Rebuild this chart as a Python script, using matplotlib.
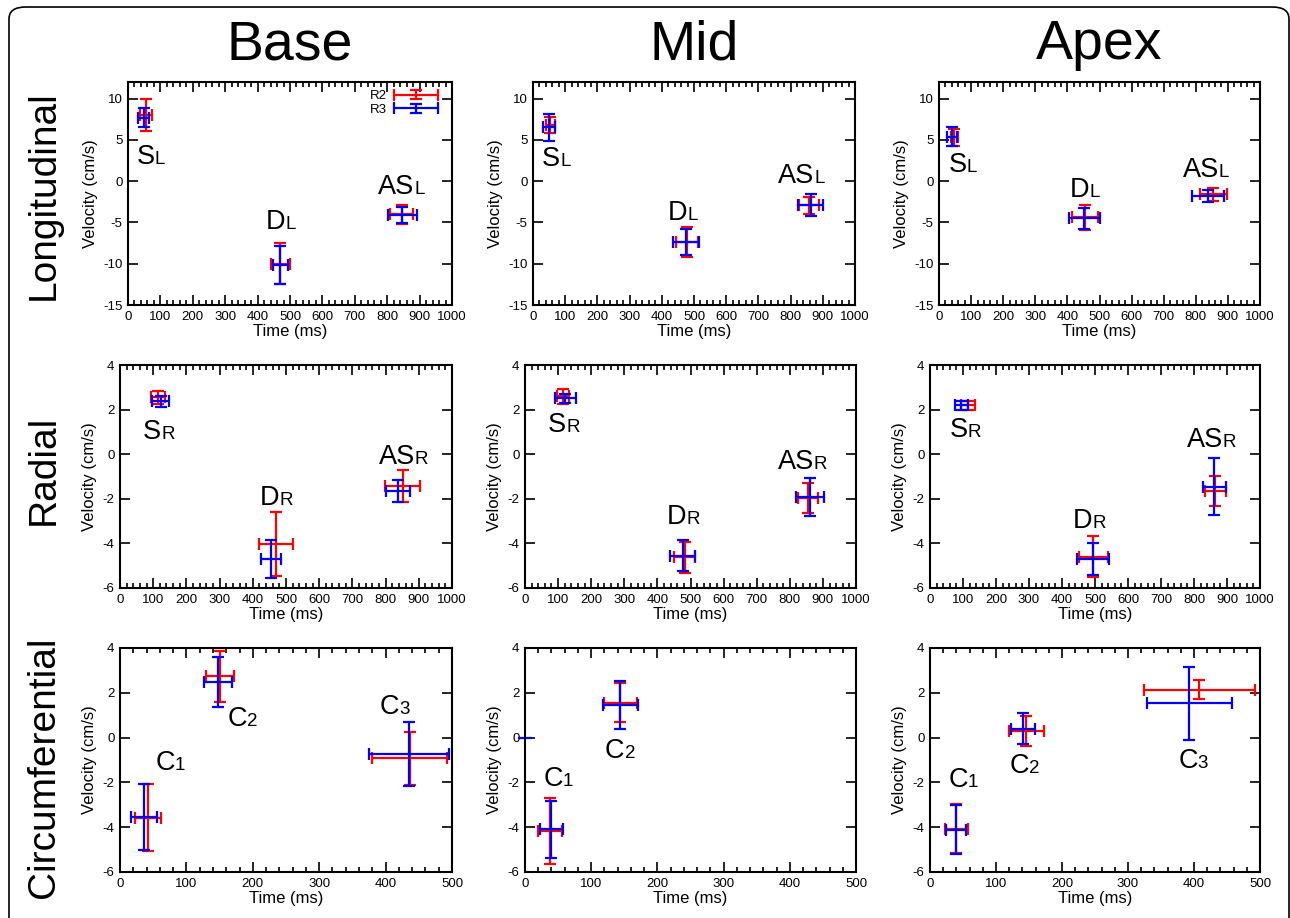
import numpy as np
import matplotlib.pyplot as plt
from matplotlib.patches import FancyBboxPatch
from matplotlib.legend_handler import HandlerErrorbar
from matplotlib.container import ErrorbarContainer
from matplotlib.ticker import MultipleLocator

plt.rcParams['font.family'] = ['Liberation Sans', 'DejaVu Sans']
plt.rcParams['axes.unicode_minus'] = False

# each point: (time ms, velocity cm/s, time error, velocity error)
long_base_r2 = [(55, 8.0, 18, 1.9), (470, -10.0, 30, 2.5), (845, -4.0, 36, 1.15)]
long_base_r3 = [(48, 7.7, 17, 1.2), (470, -10.1, 24, 2.3), (847, -4.1, 44, 1.0)]
long_mid_r2 = [(54, 6.8, 13, 1.0), (477, -7.35, 34, 1.8), (857, -2.95, 31, 1.05)]
long_mid_r3 = [(50, 6.5, 18, 1.6), (475, -7.4, 39, 1.55), (862, -2.85, 39, 1.33)]
long_apex_r2 = [(48, 5.3, 12, 1.0), (455, -4.4, 40, 1.5), (855, -1.6, 42, 0.75)]
long_apex_r3 = [(40, 5.4, 15, 1.15), (453, -4.5, 49, 1.3), (838, -1.8, 50, 0.7)]

rad_base_r2 = [(115, 2.55, 22, 0.3), (470, -4.02, 51, 1.45), (852, -1.43, 53, 0.7)]
rad_base_r3 = [(122, 2.38, 27, 0.25), (454, -4.7, 30, 0.87), (837, -1.65, 36, 0.48)]
rad_mid_r2 = [(116, 2.6, 18, 0.33), (482, -4.62, 33, 0.7), (855, -1.96, 30, 0.67)]
rad_mid_r3 = [(122, 2.5, 31, 0.22), (476, -4.55, 37, 0.69), (861, -1.93, 42, 0.86)]
rad_apex_r2 = [(115, 2.2, 22, 0.2), (495, -4.6, 45, 0.91), (865, -1.66, 32, 0.67)]
rad_apex_r3 = [(95, 2.2, 20, 0.2), (493, -4.7, 48, 0.71), (862, -1.46, 34, 1.27)]

circ_base_r2 = [(42, -3.57, 19, 1.48), (150, 2.73, 21, 1.14), (436, -0.93, 57, 1.2)]
circ_base_r3 = [(36, -3.53, 20, 1.48), (147, 2.48, 21, 1.1), (435, -0.73, 60, 1.43)]
circ_mid_r2 = [(38, -4.16, 18, 1.48), (144, 1.56, 25, 0.88)]
circ_mid_r3 = [(40, -4.1, 18, 1.27), (144, 1.47, 26, 1.07)]
circ_mid_r3_stray = [(0, 0.0, 10, 0.0)]
circ_apex_r2 = [(40, -4.07, 17, 1.1), (146, 0.3, 26, 0.68), (408, 2.13, 84, 0.42)]
circ_apex_r3 = [(39, -4.12, 15, 1.09), (141, 0.39, 18, 0.69), (393, 1.53, 64, 1.62)]

# phase labels: (main, sub, time, velocity)
lab_long_base = [('S', 'L', 26, 2.1), ('D', 'L', 425, -5.75), ('AS', 'L', 771, -1.55)]
lab_long_mid = [('S', 'L', 28, 1.8), ('D', 'L', 420, -4.65), ('AS', 'L', 762, -0.25)]
lab_long_apex = [('S', 'L', 29, 1.15), ('D', 'L', 408, -1.95), ('AS', 'L', 759, 0.55)]
lab_rad_base = [('S', 'R', 70, 0.7), ('D', 'R', 422, -2.3), ('AS', 'R', 779, -0.45)]
lab_rad_mid = [('S', 'R', 70, 1.0), ('D', 'R', 428, -3.15), ('AS', 'R', 763, -0.65)]
lab_rad_apex = [('S', 'R', 59, 0.78), ('D', 'R', 434, -3.33), ('AS', 'R', 778, 0.33)]
lab_circ_base = [('C', '1', 53, -1.46), ('C', '2', 162, 0.5), ('C', '3', 391, 1.04)]
lab_circ_mid = [('C', '1', 28, -2.16), ('C', '2', 121, -0.9)]
lab_circ_apex = [('C', '1', 28, -2.22), ('C', '2', 121, -1.6), ('C', '3', 376, -1.35)]

columns = ['Base', 'Mid', 'Apex']
rows = ['Longitudinal', 'Radial', 'Circumferential']

W, H = 1290, 918
fig = plt.figure(figsize=(W / 100, H / 100), dpi=100)

# rounded frame round the whole figure
frame = FancyBboxPatch((9 / W, -0.1), 1280 / W, 1 - 7 / H + 0.1,
                       boxstyle='round,pad=0,rounding_size=0.013',
                       transform=fig.transFigure, fill=False, ec='black', lw=1.2)
fig.patches.append(frame)

# axes boxes in pixels: left, top, right, bottom
boxes = [
    [(128, 82, 452, 305), (533, 82, 855, 305), (939, 82, 1260, 305)],
    [(120, 365, 452, 588), (525, 365, 856, 588), (930, 365, 1260, 588)],
    [(120, 648, 452, 872), (525, 648, 856, 872), (930, 648, 1260, 872)],
]
series = [
    [(long_base_r2, long_base_r3), (long_mid_r2, long_mid_r3), (long_apex_r2, long_apex_r3)],
    [(rad_base_r2, rad_base_r3), (rad_mid_r2, rad_mid_r3), (rad_apex_r2, rad_apex_r3)],
    [(circ_base_r2, circ_base_r3), (circ_mid_r2, circ_mid_r3), (circ_apex_r2, circ_apex_r3)],
]
labels = [
    [lab_long_base, lab_long_mid, lab_long_apex],
    [lab_rad_base, lab_rad_mid, lab_rad_apex],
    [lab_circ_base, lab_circ_mid, lab_circ_apex],
]
xlims = [(0, 1000), (0, 1000), (0, 500)]
ylims = [(-15, 12), (-6, 4), (-6, 4)]
ysteps = [5, 2, 2]


def draw_err(ax, pts, color, cap=4.5):
    t, v, te, ve = (np.array(c) for c in zip(*pts))
    return ax.errorbar(t, v, xerr=te, yerr=ve, fmt='none', ecolor=color,
                       elinewidth=1.6, capsize=cap, capthick=1.6)


for i in range(3):
    for j in range(3):
        l, t, r, b = boxes[i][j]
        ax = fig.add_axes([l / W, 1 - b / H, (r - l) / W, (b - t) / H])
        r2, r3 = series[i][j]
        h2 = draw_err(ax, r2, 'red')
        h3 = draw_err(ax, r3, 'blue')
        if i == 2 and j == 1:
            s = draw_err(ax, circ_mid_r3_stray, 'blue', cap=0)
            for c in s.lines[2]:
                c.set_clip_on(False)
        ax.set_xlim(*xlims[i])
        ax.set_ylim(*ylims[i])
        ax.xaxis.set_major_locator(MultipleLocator(100))
        ax.xaxis.set_minor_locator(MultipleLocator(20))
        ax.yaxis.set_major_locator(MultipleLocator(ysteps[i]))
        ax.tick_params(which='both', direction='in', top=True, right=True,
                       width=1.2, labelsize=9.5, pad=4)
        ax.tick_params(which='major', length=7)
        ax.tick_params(which='minor', length=3.5)
        for sp in ax.spines.values():
            sp.set_linewidth(1.5)
        ax.set_xlabel('Time (ms)', fontsize=12, labelpad=1)
        ax.set_ylabel('Velocity (cm/s)', fontsize=12, labelpad=4)

        for main, sub, tx, vy in labels[i][j]:
            mt = ax.text(tx, vy, main, fontsize=19.5, ha='left', va='baseline')
            ax.annotate(sub, xy=(1, vy), xycoords=(mt, 'data'),
                        fontsize=13.5, ha='left', va='baseline')

        if i == 0 and j == 0:
            ax.legend([h2, h3], ['R2', 'R3'], loc='upper right',
                      bbox_to_anchor=(1 - 14 / 324, 1 - 8 / 223),
                      frameon=False, markerfirst=False, fontsize=9.5,
                      handlelength=3.3, handletextpad=0.6, labelspacing=0.1,
                      borderpad=0, borderaxespad=0,
                      handler_map={ErrorbarContainer: HandlerErrorbar(xerr_size=1.65, yerr_size=0.35)})

# column titles centred over the top row
for j, name in enumerate(columns):
    l, t, r, b = boxes[0][j]
    fig.text((l + r) / 2 / W, 1 - 45 / H, name, fontsize=40, ha='center', va='center')

# row titles
for y_px, name in zip([195, 470, 767], rows):
    fig.text(44 / W, 1 - y_px / H, name, fontsize=28, rotation=90,
             ha='center', va='center')

fig.savefig('out.png', dpi=100)
